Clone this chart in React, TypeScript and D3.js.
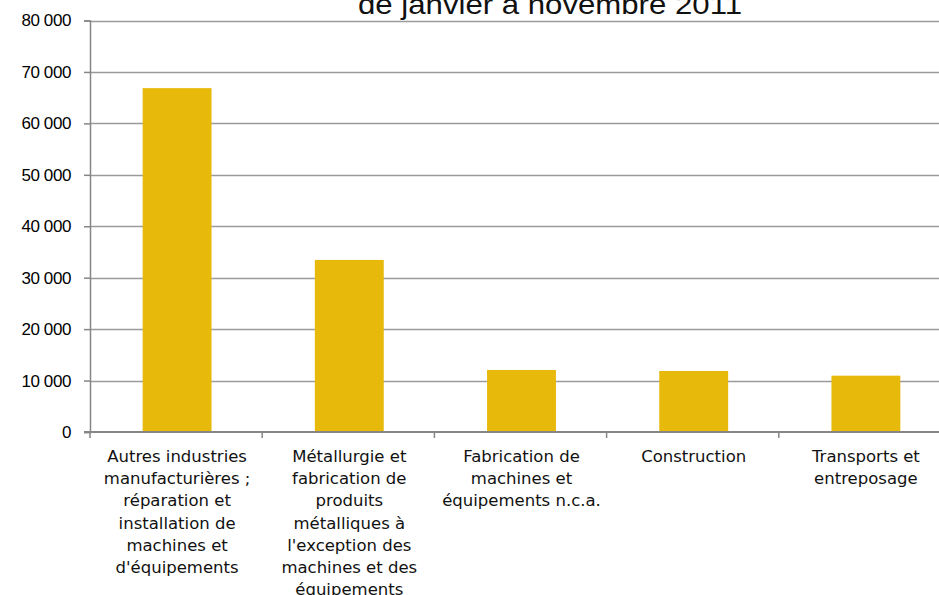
import { useRef, useEffect } from 'react';
import { select, scaleBand, scaleLinear, axisLeft } from 'd3';

const categories = [
  'Autres industries|manufacturières ;|réparation et|installation de|machines et|d\'équipements',
  'Métallurgie et|fabrication de|produits|métalliques à|l\'exception des|machines et des|équipements',
  'Fabrication de|machines et|équipements n.c.a.',
  'Construction',
  'Transports et|entreposage',
];
const values = [66850, 33450, 12060, 11860, 10950];
const yTicks = [0, 10000, 20000, 30000, 40000, 50000, 60000, 70000, 80000];
const title = 'de janvier à novembre 2011';

const WIDTH = 939;
const HEIGHT = 595;
const LEFT = 90;
const RIGHT = 951;
const TOP = 20.5;
const BOTTOM = 432;
const BAR_COLOR = '#E6B90A';

const fmt = (v: number) => (v === 0 ? '0' : `${Math.floor(v / 1000)} 000`);

export default function App() {
  const svgRef = useRef<SVGSVGElement>(null);

  useEffect(() => {
    const svg = select(svgRef.current);
    svg.selectAll('*').remove();

    const x = scaleBand<number>()
      .domain(categories.map((_, i) => i))
      .range([LEFT, RIGHT]);
    const y = scaleLinear().domain([0, 80000]).range([BOTTOM, TOP]);

    // gridlines
    svg
      .append('g')
      .selectAll('line')
      .data(yTicks.filter((t) => t > 0))
      .enter()
      .append('line')
      .attr('x1', LEFT)
      .attr('x2', WIDTH)
      .attr('y1', (d) => Math.round(y(d)) + 0.5)
      .attr('y2', (d) => Math.round(y(d)) + 0.5)
      .attr('stroke', '#9a9a9a')
      .attr('stroke-width', 1.5);

    // bars
    const bw = x.bandwidth() * 0.4;
    svg
      .append('g')
      .selectAll('rect')
      .data(values)
      .enter()
      .append('rect')
      .attr('x', (_, i) => x(i)! + x.bandwidth() / 2 - bw / 2 + 1)
      .attr('width', bw)
      .attr('y', (d) => y(d))
      .attr('height', (d) => BOTTOM - y(d))
      .attr('fill', BAR_COLOR);

    // y axis
    const yAxis = svg
      .append('g')
      .attr('transform', `translate(${LEFT},0)`)
      .call(axisLeft(y).tickValues(yTicks).tickSize(6).tickPadding(13).tickFormat((d) => fmt(+d)));
    yAxis.select('.domain').attr('stroke', '#868686').attr('stroke-width', 1.5);
    yAxis.selectAll('.tick line').attr('stroke', '#868686').attr('stroke-width', 1.5);
    yAxis
      .selectAll('.tick text')
      .attr('fill', '#000')
      .attr('font-family', 'Liberation Sans, Arial, sans-serif')
      .attr('font-size', 17)
      .attr('letter-spacing', -0.4);

    // x axis line + boundary ticks
    const xAxis = svg.append('g');
    xAxis
      .append('line')
      .attr('x1', LEFT - 6)
      .attr('x2', WIDTH)
      .attr('y1', BOTTOM)
      .attr('y2', BOTTOM)
      .attr('stroke', '#868686')
      .attr('stroke-width', 2);
    xAxis
      .selectAll('.bt')
      .data(categories.map((_, i) => i))
      .enter()
      .append('line')
      .attr('x1', (i) => x(i)!)
      .attr('x2', (i) => x(i)!)
      .attr('y1', BOTTOM)
      .attr('y2', BOTTOM + 6)
      .attr('stroke', '#868686')
      .attr('stroke-width', 1.5);

    // category labels
    const labels = svg
      .append('g')
      .attr('font-family', 'DejaVu Sans, Verdana, sans-serif')
      .attr('font-size', 16.5)
      .attr('fill', '#111')
      .attr('text-anchor', 'middle');
    categories.forEach((c, i) => {
      const cx = x(i)! + x.bandwidth() / 2 + 1;
      const t = labels.append('text').attr('x', cx).attr('y', 462);
      c.split('|').forEach((line, j) => {
        t.append('tspan')
          .attr('x', cx)
          .attr('dy', j === 0 ? 0 : 22.2)
          .text(line);
      });
    });

    // title (top part is cropped in the reference)
    svg
      .append('text')
      .attr('x', 550)
      .attr('y', 14)
      .attr('text-anchor', 'middle')
      .attr('font-family', 'Liberation Sans, Arial, sans-serif')
      .attr('font-size', 28)
      .attr('textLength', 384)
      .attr('lengthAdjust', 'spacingAndGlyphs')
      .attr('fill', '#111')
      .text(title);
  }, []);

  return (
    <>
      <style>{`body{margin:0}`}</style>
      <svg ref={svgRef} width={WIDTH} height={HEIGHT} style={{ display: 'block', background: '#fff' }} />
    </>
  );
}
